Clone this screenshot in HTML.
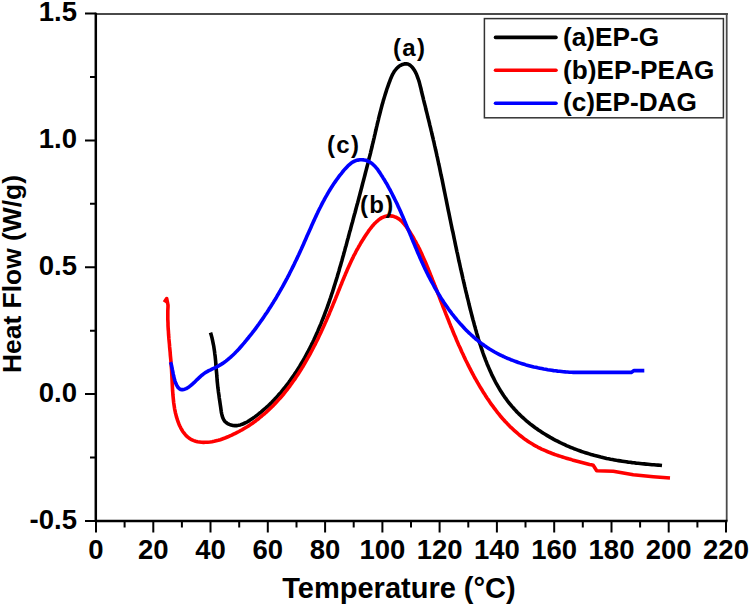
<!DOCTYPE html>
<html><head><meta charset="utf-8">
<style>
html,body{margin:0;padding:0;background:#fff;}
body{width:750px;height:605px;overflow:hidden;}
svg{display:block;}
text{font-family:"Liberation Sans",sans-serif;font-weight:bold;fill:#000;}
.tl{font-size:27.5px;}
.ttl{font-size:29px;}
.ttl2{font-size:26.4px;}
.ann{font-size:24px;letter-spacing:1.3px;}
.leg{font-size:26.2px;}
</style></head><body>
<svg width="750" height="605" viewBox="0 0 750 605">
<rect width="750" height="605" fill="#fff"/>
<line x1="96" y1="14" x2="727.9" y2="14" stroke="#4a4a4a" stroke-width="1.8"/>
<line x1="726.7" y1="13.1" x2="726.7" y2="521" stroke="#4a4a4a" stroke-width="1.8"/>
<line x1="95.8" y1="12.8" x2="95.8" y2="522" stroke="#000" stroke-width="2.5"/>
<line x1="95" y1="521" x2="727.5" y2="521" stroke="#000" stroke-width="2.5"/>
<path d="M85,521.0H96 M85,394.1H96 M85,267.2H96 M85,140.4H96 M85,13.5H96 M90,457.5H96 M90,330.7H96 M90,203.8H96 M90,76.9H96 M96.0,521V532.5 M153.3,521V532.5 M210.5,521V532.5 M267.8,521V532.5 M325.1,521V532.5 M382.4,521V532.5 M439.6,521V532.5 M496.9,521V532.5 M554.2,521V532.5 M611.5,521V532.5 M668.7,521V532.5 M726.0,521V532.5 M124.6,521V527.5 M181.9,521V527.5 M239.2,521V527.5 M296.5,521V527.5 M353.7,521V527.5 M411.0,521V527.5 M468.3,521V527.5 M525.5,521V527.5 M582.8,521V527.5 M640.1,521V527.5 M697.4,521V527.5" stroke="#000" stroke-width="2" fill="none"/>
<g fill="none" stroke-width="3.6" stroke-linejoin="round" stroke-linecap="butt">
<path d="M210.5,332.6 L211.1,334.5 L211.6,336.4 L212.1,338.3 L212.5,340.2 L212.9,342.1 L213.3,344.1 L213.7,346.0 L214.0,348.0 L214.3,350.0 L214.6,352.0 L214.8,353.9 L215.1,355.9 L215.3,357.9 L215.5,359.9 L215.7,361.9 L215.8,364.0 L216.0,366.0 L216.2,368.0 L216.3,370.0 L216.5,372.0 L216.7,374.0 L216.8,376.0 L217.0,378.0 L217.1,380.0 L217.3,382.0 L217.5,383.9 L217.7,385.9 L217.9,387.9 L218.2,389.8 L218.4,391.7 L218.7,393.7 L219.0,395.6 L219.2,397.5 L219.5,399.5 L219.8,401.4 L220.1,403.4 L220.4,405.5 L220.7,407.6 L221.0,409.7 L221.3,411.8 L221.7,413.9 L222.2,415.9 L222.8,417.8 L223.7,419.6 L224.7,421.2 L226.1,422.5 L227.6,423.6 L229.3,424.4 L231.1,425.1 L232.9,425.5 L234.7,425.6 L236.6,425.6 L238.4,425.3 L240.3,424.9 L242.1,424.3 L243.9,423.5 L245.7,422.7 L247.5,421.7 L249.3,420.6 L251.0,419.5 L252.8,418.3 L254.5,417.1 L256.1,415.9 L257.8,414.6 L259.4,413.3 L261.0,412.1 L262.6,410.7 L264.1,409.4 L265.7,408.0 L267.2,406.7 L268.7,405.3 L270.1,403.9 L271.6,402.5 L273.0,401.0 L274.4,399.6 L275.8,398.1 L277.1,396.6 L278.4,395.1 L279.8,393.6 L281.1,392.1 L282.3,390.6 L283.6,389.0 L284.9,387.5 L286.1,385.9 L287.3,384.3 L288.5,382.8 L289.7,381.2 L290.8,379.6 L292.0,377.9 L293.1,376.3 L294.2,374.7 L295.3,373.0 L296.4,371.4 L297.5,369.7 L298.5,368.1 L299.6,366.4 L300.6,364.7 L301.6,363.0 L302.6,361.3 L303.6,359.6 L304.6,357.9 L305.6,356.1 L306.5,354.4 L307.4,352.7 L308.4,350.9 L309.3,349.2 L310.2,347.4 L311.1,345.6 L311.9,343.8 L312.8,342.1 L313.7,340.3 L314.5,338.5 L315.3,336.7 L316.1,334.9 L317.0,333.1 L317.8,331.2 L318.5,329.4 L319.3,327.6 L320.1,325.7 L320.9,323.9 L321.6,322.0 L322.3,320.2 L323.1,318.3 L323.8,316.5 L324.5,314.6 L325.2,312.7 L325.9,310.9 L326.6,309.0 L327.3,307.1 L328.0,305.2 L328.6,303.3 L329.3,301.4 L329.9,299.5 L330.6,297.6 L331.2,295.7 L331.8,293.8 L332.5,291.9 L333.1,290.0 L333.7,288.1 L334.3,286.1 L334.9,284.2 L335.5,282.3 L336.1,280.4 L336.7,278.5 L337.3,276.5 L337.8,274.6 L338.4,272.7 L339.0,270.7 L339.5,268.8 L340.1,266.8 L340.7,264.9 L341.2,263.0 L341.8,261.0 L342.3,259.1 L342.8,257.2 L343.4,255.2 L343.9,253.3 L344.5,251.3 L345.0,249.4 L345.5,247.4 L346.1,245.5 L346.6,243.6 L347.1,241.6 L347.6,239.7 L348.2,237.7 L348.7,235.8 L349.2,233.9 L349.7,231.9 L350.3,230.0 L350.8,228.1 L351.3,226.1 L351.8,224.2 L352.4,222.3 L352.9,220.4 L353.4,218.4 L353.9,216.5 L354.4,214.6 L355.0,212.7 L355.5,210.7 L356.0,208.8 L356.5,206.9 L357.0,205.0 L357.6,203.0 L358.1,201.1 L358.6,199.2 L359.1,197.3 L359.6,195.4 L360.1,193.4 L360.6,191.5 L361.1,189.6 L361.6,187.7 L362.1,185.8 L362.6,183.8 L363.1,181.9 L363.6,180.0 L364.1,178.1 L364.6,176.2 L365.1,174.2 L365.6,172.3 L366.1,170.4 L366.6,168.5 L367.1,166.5 L367.6,164.6 L368.1,162.7 L368.5,160.8 L369.0,158.8 L369.5,156.9 L370.0,155.0 L370.5,153.1 L370.9,151.1 L371.4,149.2 L371.9,147.3 L372.3,145.3 L372.8,143.4 L373.3,141.5 L373.7,139.5 L374.2,137.6 L374.6,135.6 L375.1,133.7 L375.5,131.8 L376.0,129.8 L376.4,127.9 L376.9,125.9 L377.3,124.0 L377.8,122.0 L378.3,120.1 L378.7,118.1 L379.2,116.2 L379.7,114.2 L380.2,112.3 L380.7,110.4 L381.2,108.4 L381.7,106.5 L382.2,104.5 L382.8,102.6 L383.3,100.6 L383.9,98.7 L384.5,96.8 L385.1,94.8 L385.7,92.9 L386.3,90.9 L386.9,89.0 L387.6,87.1 L388.3,85.2 L389.0,83.2 L389.7,81.3 L390.4,79.4 L391.2,77.5 L392.0,75.6 L392.9,73.8 L393.9,72.1 L395.0,70.5 L396.2,69.0 L397.5,67.6 L399.0,66.3 L400.7,65.3 L402.5,64.4 L404.3,63.9 L406.1,63.7 L407.9,64.0 L409.4,64.8 L410.9,65.9 L412.3,67.3 L413.5,68.9 L414.6,70.6 L415.6,72.4 L416.5,74.3 L417.2,76.1 L417.9,78.1 L418.6,80.0 L419.2,81.9 L419.7,83.9 L420.2,85.9 L420.7,87.8 L421.2,89.8 L421.6,91.8 L422.1,93.7 L422.6,95.7 L423.1,97.6 L423.5,99.6 L424.0,101.5 L424.5,103.5 L425.0,105.4 L425.5,107.3 L425.9,109.3 L426.4,111.2 L426.9,113.1 L427.4,115.1 L427.8,117.0 L428.3,118.9 L428.8,120.8 L429.3,122.7 L429.7,124.7 L430.2,126.6 L430.7,128.5 L431.1,130.4 L431.6,132.4 L432.0,134.3 L432.5,136.2 L433.0,138.2 L433.4,140.1 L433.9,142.0 L434.3,144.0 L434.7,145.9 L435.2,147.9 L435.6,149.8 L436.1,151.8 L436.5,153.7 L436.9,155.7 L437.4,157.6 L437.8,159.6 L438.2,161.5 L438.6,163.5 L439.1,165.5 L439.5,167.4 L439.9,169.4 L440.3,171.4 L440.7,173.3 L441.1,175.3 L441.6,177.3 L442.0,179.2 L442.4,181.2 L442.8,183.2 L443.2,185.2 L443.6,187.1 L444.0,189.1 L444.4,191.1 L444.8,193.0 L445.2,195.0 L445.6,197.0 L446.0,198.9 L446.4,200.9 L446.8,202.9 L447.2,204.9 L447.6,206.8 L448.0,208.8 L448.4,210.8 L448.8,212.7 L449.2,214.7 L449.6,216.6 L450.0,218.6 L450.4,220.5 L450.8,222.5 L451.2,224.5 L451.6,226.4 L452.0,228.4 L452.4,230.3 L452.9,232.2 L453.3,234.2 L453.7,236.1 L454.1,238.1 L454.5,240.0 L454.9,241.9 L455.3,243.9 L455.7,245.8 L456.1,247.7 L456.5,249.7 L456.9,251.6 L457.4,253.5 L457.8,255.5 L458.2,257.4 L458.6,259.3 L459.0,261.3 L459.5,263.2 L459.9,265.1 L460.3,267.0 L460.7,269.0 L461.2,270.9 L461.6,272.8 L462.1,274.8 L462.5,276.7 L462.9,278.6 L463.4,280.6 L463.8,282.5 L464.3,284.4 L464.7,286.4 L465.2,288.3 L465.6,290.2 L466.1,292.2 L466.6,294.1 L467.0,296.0 L467.5,298.0 L468.0,299.9 L468.5,301.9 L468.9,303.8 L469.4,305.8 L469.9,307.7 L470.4,309.7 L470.9,311.6 L471.4,313.6 L471.9,315.5 L472.4,317.5 L472.9,319.4 L473.5,321.4 L474.0,323.4 L474.5,325.3 L475.1,327.3 L475.6,329.2 L476.2,331.2 L476.7,333.2 L477.3,335.1 L477.9,337.1 L478.4,339.0 L479.0,341.0 L479.6,342.9 L480.3,344.8 L480.9,346.8 L481.5,348.7 L482.2,350.6 L482.8,352.5 L483.5,354.5 L484.2,356.4 L484.9,358.2 L485.6,360.1 L486.4,362.0 L487.1,363.9 L487.9,365.7 L488.7,367.6 L489.5,369.4 L490.3,371.3 L491.1,373.1 L491.9,374.9 L492.8,376.7 L493.7,378.4 L494.6,380.2 L495.5,382.0 L496.4,383.7 L497.4,385.4 L498.4,387.1 L499.4,388.8 L500.4,390.5 L501.5,392.2 L502.5,393.8 L503.6,395.5 L504.7,397.1 L505.9,398.7 L507.0,400.2 L508.2,401.8 L509.4,403.3 L510.7,404.9 L511.9,406.4 L513.2,407.8 L514.5,409.3 L515.9,410.7 L517.2,412.2 L518.6,413.6 L520.0,414.9 L521.4,416.3 L522.9,417.6 L524.4,419.0 L525.8,420.3 L527.4,421.6 L528.9,422.8 L530.4,424.1 L532.0,425.3 L533.6,426.5 L535.2,427.7 L536.8,428.8 L538.4,430.0 L540.1,431.1 L541.8,432.2 L543.4,433.3 L545.1,434.3 L546.9,435.4 L548.6,436.4 L550.3,437.4 L552.1,438.4 L553.8,439.4 L555.6,440.3 L557.4,441.2 L559.2,442.1 L561.0,443.0 L562.9,443.9 L564.7,444.7 L566.5,445.6 L568.4,446.4 L570.2,447.2 L572.1,447.9 L574.0,448.7 L575.9,449.4 L577.8,450.1 L579.7,450.8 L581.6,451.5 L583.5,452.1 L585.4,452.7 L587.3,453.3 L589.2,453.9 L591.1,454.5 L593.1,455.0 L595.0,455.6 L596.9,456.1 L598.9,456.6 L600.8,457.1 L602.7,457.5 L604.7,457.9 L606.6,458.4 L608.6,458.8 L610.5,459.2 L612.5,459.5 L614.4,459.9 L616.4,460.3 L618.4,460.6 L620.3,460.9 L622.3,461.2 L624.3,461.5 L626.2,461.8 L628.2,462.1 L630.2,462.3 L632.2,462.6 L634.1,462.8 L636.1,463.1 L638.1,463.3 L640.1,463.5 L642.1,463.7 L644.1,463.9 L646.0,464.1 L648.0,464.3 L650.0,464.5 L652.0,464.7 L654.0,464.8 L656.0,465.0 L658.0,465.1 L660.0,465.3 L662.0,465.5" stroke="#000"/>
<path d="M164.3,302.2 L166.7,298.6 L168.0,305.0 L168.0,307.0 L167.9,309.0 L167.8,311.0 L167.8,313.1 L167.8,315.1 L167.8,317.1 L167.8,319.1 L167.9,321.1 L168.0,323.1 L168.0,325.1 L168.1,327.1 L168.2,329.0 L168.4,331.0 L168.5,333.0 L168.6,335.0 L168.8,337.0 L168.9,338.9 L169.1,340.9 L169.3,342.9 L169.5,344.9 L169.6,346.9 L169.8,348.8 L170.0,350.8 L170.2,352.8 L170.3,354.8 L170.5,356.8 L170.7,358.7 L170.9,360.7 L171.0,362.7 L171.2,364.7 L171.3,366.7 L171.5,368.7 L171.6,370.7 L171.7,372.7 L171.8,374.7 L171.9,376.7 L172.0,378.7 L172.1,380.7 L172.2,382.7 L172.3,384.8 L172.4,386.8 L172.5,388.8 L172.6,390.8 L172.8,392.8 L172.9,394.8 L173.1,396.8 L173.3,398.8 L173.5,400.8 L173.7,402.8 L174.0,404.8 L174.3,406.8 L174.6,408.8 L175.0,410.7 L175.4,412.7 L175.9,414.6 L176.4,416.6 L177.0,418.5 L177.6,420.4 L178.3,422.3 L179.0,424.2 L179.8,426.0 L180.7,427.8 L181.6,429.5 L182.6,431.2 L183.7,432.7 L184.9,434.2 L186.1,435.6 L187.5,436.8 L188.9,438.0 L190.4,439.0 L192.0,439.9 L193.8,440.6 L195.6,441.2 L197.5,441.7 L199.5,442.0 L201.5,442.3 L203.5,442.4 L205.6,442.3 L207.8,442.2 L209.9,442.0 L212.0,441.7 L214.1,441.3 L216.2,440.8 L218.3,440.3 L220.3,439.7 L222.3,439.0 L224.2,438.3 L226.2,437.5 L228.0,436.8 L229.9,435.9 L231.8,435.1 L233.6,434.2 L235.4,433.3 L237.2,432.4 L239.0,431.5 L240.7,430.5 L242.5,429.6 L244.2,428.5 L245.9,427.5 L247.6,426.5 L249.2,425.4 L250.9,424.3 L252.5,423.2 L254.1,422.0 L255.7,420.9 L257.2,419.7 L258.8,418.5 L260.3,417.2 L261.8,416.0 L263.3,414.7 L264.8,413.5 L266.3,412.2 L267.7,410.8 L269.2,409.5 L270.6,408.1 L272.0,406.8 L273.4,405.4 L274.7,404.0 L276.1,402.5 L277.4,401.1 L278.7,399.6 L280.0,398.2 L281.3,396.7 L282.6,395.2 L283.9,393.7 L285.1,392.1 L286.3,390.6 L287.6,389.0 L288.8,387.4 L290.0,385.8 L291.1,384.2 L292.3,382.6 L293.4,381.0 L294.6,379.4 L295.7,377.7 L296.8,376.1 L297.9,374.4 L299.0,372.7 L300.1,371.0 L301.2,369.3 L302.2,367.6 L303.3,365.9 L304.3,364.2 L305.3,362.4 L306.3,360.7 L307.3,358.9 L308.3,357.2 L309.3,355.4 L310.3,353.6 L311.2,351.8 L312.2,350.0 L313.1,348.2 L314.0,346.4 L315.0,344.6 L315.9,342.8 L316.8,341.0 L317.7,339.2 L318.5,337.4 L319.4,335.5 L320.3,333.7 L321.1,331.9 L322.0,330.0 L322.8,328.2 L323.7,326.3 L324.5,324.5 L325.3,322.6 L326.2,320.8 L327.0,318.9 L327.8,317.1 L328.6,315.2 L329.4,313.4 L330.1,311.5 L330.9,309.7 L331.7,307.8 L332.5,306.0 L333.2,304.1 L334.0,302.3 L334.7,300.5 L335.5,298.6 L336.2,296.8 L337.0,294.9 L337.7,293.1 L338.4,291.3 L339.2,289.5 L339.9,287.6 L340.6,285.8 L341.4,284.0 L342.1,282.2 L342.8,280.4 L343.6,278.6 L344.3,276.8 L345.1,275.0 L345.8,273.2 L346.6,271.4 L347.4,269.6 L348.2,267.8 L349.0,266.0 L349.8,264.2 L350.6,262.5 L351.4,260.7 L352.3,258.9 L353.2,257.1 L354.0,255.3 L355.0,253.6 L355.9,251.8 L356.8,250.0 L357.8,248.3 L358.8,246.5 L359.8,244.8 L360.8,243.0 L361.9,241.2 L363.0,239.5 L364.1,237.7 L365.2,236.0 L366.4,234.2 L367.6,232.5 L368.8,230.7 L370.1,229.0 L371.4,227.3 L372.7,225.7 L374.1,224.1 L375.5,222.7 L377.0,221.3 L378.5,220.0 L380.0,218.9 L381.6,217.9 L383.3,217.1 L385.0,216.5 L386.7,216.1 L388.5,215.9 L390.3,215.9 L392.2,216.1 L394.0,216.6 L395.8,217.2 L397.5,218.1 L399.2,219.1 L400.7,220.4 L402.2,221.8 L403.5,223.3 L404.8,224.8 L406.1,226.5 L407.3,228.2 L408.4,229.9 L409.6,231.6 L410.7,233.3 L411.7,235.0 L412.8,236.8 L413.8,238.5 L414.8,240.3 L415.8,242.0 L416.7,243.8 L417.7,245.6 L418.6,247.4 L419.5,249.1 L420.3,250.9 L421.2,252.7 L422.0,254.5 L422.8,256.4 L423.6,258.2 L424.4,260.0 L425.2,261.8 L426.0,263.6 L426.8,265.5 L427.5,267.3 L428.3,269.1 L429.0,271.0 L429.8,272.8 L430.5,274.7 L431.3,276.5 L432.0,278.4 L432.7,280.2 L433.5,282.1 L434.2,283.9 L434.9,285.8 L435.7,287.7 L436.4,289.5 L437.1,291.4 L437.8,293.2 L438.6,295.1 L439.3,297.0 L440.0,298.8 L440.7,300.7 L441.5,302.6 L442.2,304.4 L442.9,306.3 L443.6,308.1 L444.4,310.0 L445.1,311.9 L445.8,313.7 L446.6,315.6 L447.3,317.5 L448.1,319.3 L448.8,321.2 L449.5,323.0 L450.3,324.9 L451.0,326.8 L451.8,328.6 L452.6,330.5 L453.3,332.3 L454.1,334.2 L454.9,336.0 L455.7,337.8 L456.4,339.7 L457.2,341.5 L458.0,343.4 L458.8,345.2 L459.7,347.0 L460.5,348.8 L461.3,350.7 L462.1,352.5 L463.0,354.3 L463.8,356.1 L464.7,357.9 L465.5,359.7 L466.4,361.5 L467.3,363.3 L468.2,365.1 L469.1,366.9 L470.0,368.6 L470.9,370.4 L471.8,372.2 L472.7,373.9 L473.7,375.7 L474.6,377.5 L475.6,379.2 L476.6,380.9 L477.6,382.7 L478.6,384.4 L479.6,386.1 L480.6,387.8 L481.7,389.5 L482.7,391.2 L483.8,392.9 L484.9,394.6 L485.9,396.3 L487.0,398.0 L488.2,399.6 L489.3,401.3 L490.4,402.9 L491.6,404.6 L492.8,406.2 L494.0,407.8 L495.2,409.4 L496.4,411.0 L497.6,412.6 L498.9,414.1 L500.1,415.7 L501.4,417.2 L502.7,418.7 L504.1,420.2 L505.4,421.7 L506.8,423.1 L508.1,424.6 L509.5,426.0 L510.9,427.4 L512.4,428.7 L513.8,430.1 L515.3,431.4 L516.8,432.7 L518.3,434.0 L519.8,435.3 L521.4,436.5 L522.9,437.7 L524.5,438.9 L526.1,440.0 L527.8,441.2 L529.4,442.3 L531.1,443.3 L532.8,444.3 L534.5,445.4 L536.3,446.3 L538.0,447.3 L539.8,448.2 L541.6,449.1 L543.5,449.9 L545.3,450.7 L547.2,451.5 L549.1,452.3 L551.0,453.0 L552.9,453.8 L554.8,454.5 L556.7,455.1 L558.6,455.8 L560.6,456.4 L562.5,457.0 L564.5,457.6 L566.4,458.2 L568.4,458.8 L570.3,459.3 L572.3,459.9 L574.2,460.4 L576.1,460.9 L578.1,461.4 L580.0,461.9 L581.9,462.4 L583.8,462.9 L585.7,463.4 L587.6,463.9 L589.5,464.4 L591.3,464.8 L593.2,465.3 L596.7,470.7 L613.3,471.3 L633.3,474.7 L653.3,476.7 L670.0,478.0" stroke="#ff0000"/>
<path d="M170.5,362.1 L171.0,363.6 L171.5,365.3 L171.9,367.3 L172.3,369.4 L172.8,371.6 L173.2,373.9 L173.7,376.3 L174.3,378.6 L174.9,380.8 L175.6,382.8 L176.4,384.7 L177.3,386.3 L178.2,387.7 L179.3,388.7 L180.5,389.4 L181.8,389.6 L183.2,389.6 L184.7,389.2 L186.2,388.6 L187.7,387.7 L189.3,386.7 L190.9,385.4 L192.4,384.1 L194.0,382.7 L195.5,381.2 L197.1,379.6 L198.7,378.1 L200.3,376.6 L201.9,375.2 L203.6,373.9 L205.3,372.6 L207.1,371.6 L208.8,370.6 L210.6,369.8 L212.4,368.9 L214.2,368.1 L216.0,367.3 L217.7,366.4 L219.4,365.4 L221.1,364.4 L222.7,363.4 L224.3,362.3 L225.9,361.1 L227.4,359.9 L228.9,358.6 L230.4,357.4 L231.9,356.0 L233.3,354.7 L234.8,353.3 L236.1,351.9 L237.5,350.4 L238.9,349.0 L240.2,347.5 L241.5,346.0 L242.9,344.4 L244.2,342.9 L245.4,341.4 L246.7,339.8 L248.0,338.3 L249.2,336.7 L250.5,335.1 L251.7,333.6 L252.9,332.0 L254.2,330.4 L255.4,328.8 L256.6,327.2 L257.7,325.6 L258.9,324.0 L260.1,322.3 L261.2,320.7 L262.4,319.1 L263.5,317.4 L264.6,315.8 L265.7,314.1 L266.9,312.5 L268.0,310.8 L269.0,309.1 L270.1,307.4 L271.2,305.8 L272.2,304.1 L273.3,302.4 L274.3,300.7 L275.4,299.0 L276.4,297.3 L277.4,295.5 L278.4,293.8 L279.4,292.1 L280.4,290.4 L281.4,288.6 L282.4,286.9 L283.4,285.1 L284.3,283.4 L285.3,281.6 L286.2,279.9 L287.2,278.1 L288.1,276.3 L289.0,274.6 L289.9,272.8 L290.8,271.0 L291.7,269.2 L292.6,267.4 L293.5,265.6 L294.4,263.8 L295.2,262.0 L296.1,260.2 L297.0,258.4 L297.8,256.6 L298.7,254.8 L299.5,253.0 L300.3,251.2 L301.2,249.3 L302.0,247.5 L302.8,245.7 L303.6,243.9 L304.4,242.0 L305.2,240.2 L306.0,238.4 L306.8,236.5 L307.6,234.7 L308.5,232.9 L309.3,231.0 L310.1,229.2 L310.9,227.4 L311.7,225.5 L312.5,223.7 L313.3,221.9 L314.2,220.1 L315.0,218.2 L315.9,216.4 L316.7,214.6 L317.6,212.8 L318.4,211.0 L319.3,209.2 L320.2,207.5 L321.1,205.7 L322.0,203.9 L322.9,202.1 L323.9,200.4 L324.8,198.6 L325.8,196.9 L326.8,195.2 L327.8,193.4 L328.8,191.7 L329.8,190.0 L330.9,188.3 L332.0,186.6 L333.0,184.9 L334.1,183.3 L335.3,181.6 L336.4,180.0 L337.6,178.4 L338.8,176.7 L340.0,175.1 L341.3,173.6 L342.5,172.0 L343.8,170.4 L345.1,168.9 L346.5,167.4 L347.9,165.9 L349.4,164.6 L350.9,163.3 L352.5,162.2 L354.2,161.3 L356.0,160.6 L357.9,160.1 L359.9,159.8 L361.9,159.7 L363.8,159.9 L365.8,160.3 L367.6,161.0 L369.3,161.8 L370.9,162.8 L372.4,163.9 L373.8,165.2 L375.2,166.6 L376.5,168.1 L377.8,169.7 L378.9,171.4 L380.1,173.1 L381.2,174.9 L382.3,176.6 L383.4,178.4 L384.5,180.1 L385.5,181.9 L386.6,183.6 L387.6,185.4 L388.5,187.2 L389.5,189.0 L390.5,190.7 L391.4,192.5 L392.3,194.3 L393.2,196.1 L394.1,197.9 L395.0,199.7 L395.9,201.5 L396.8,203.3 L397.6,205.1 L398.4,206.9 L399.3,208.7 L400.1,210.5 L400.9,212.3 L401.7,214.2 L402.5,216.0 L403.3,217.8 L404.0,219.6 L404.8,221.4 L405.6,223.3 L406.3,225.1 L407.1,226.9 L407.9,228.7 L408.6,230.6 L409.4,232.4 L410.1,234.2 L410.9,236.0 L411.6,237.9 L412.4,239.7 L413.1,241.5 L413.9,243.4 L414.7,245.2 L415.4,247.0 L416.2,248.8 L417.0,250.7 L417.7,252.5 L418.5,254.3 L419.3,256.1 L420.1,258.0 L420.9,259.8 L421.7,261.6 L422.6,263.4 L423.4,265.2 L424.2,267.0 L425.1,268.9 L426.0,270.7 L426.8,272.5 L427.7,274.3 L428.6,276.1 L429.6,277.9 L430.5,279.7 L431.4,281.4 L432.4,283.2 L433.4,285.0 L434.3,286.8 L435.3,288.5 L436.4,290.3 L437.4,292.0 L438.4,293.8 L439.5,295.5 L440.5,297.2 L441.6,298.9 L442.7,300.6 L443.8,302.3 L445.0,304.0 L446.1,305.7 L447.3,307.3 L448.4,309.0 L449.6,310.6 L450.8,312.2 L452.0,313.8 L453.3,315.4 L454.5,317.0 L455.8,318.5 L457.1,320.1 L458.4,321.6 L459.7,323.1 L461.0,324.6 L462.4,326.1 L463.7,327.5 L465.1,329.0 L466.5,330.4 L467.9,331.8 L469.3,333.2 L470.8,334.5 L472.3,335.8 L473.7,337.2 L475.2,338.5 L476.8,339.7 L478.3,341.0 L479.8,342.2 L481.4,343.4 L483.0,344.5 L484.6,345.7 L486.2,346.8 L487.9,347.9 L489.5,349.0 L491.2,350.0 L492.9,351.0 L494.6,352.0 L496.4,353.0 L498.1,353.9 L499.9,354.8 L501.7,355.7 L503.5,356.5 L505.3,357.4 L507.1,358.2 L509.0,358.9 L510.8,359.7 L512.7,360.4 L514.6,361.1 L516.4,361.8 L518.3,362.5 L520.3,363.1 L522.2,363.7 L524.1,364.3 L526.0,364.9 L528.0,365.4 L529.9,365.9 L531.9,366.4 L533.8,366.9 L535.8,367.3 L537.8,367.8 L539.8,368.2 L541.7,368.6 L543.7,369.0 L545.7,369.3 L547.7,369.7 L549.7,370.0 L551.7,370.3 L553.6,370.6 L555.6,370.8 L557.6,371.1 L559.6,371.3 L561.6,371.5 L563.5,371.7 L565.5,371.9 L567.5,372.0 L569.4,372.2 L571.4,372.3 L573.3,372.4 L631.3,372.4 L634.0,370.6 L644.3,370.6" stroke="#0000ff"/>
</g>
<text x="77" y="528.8" text-anchor="end" class="tl">-0.5</text>
<text x="77" y="401.9" text-anchor="end" class="tl">0.0</text>
<text x="77" y="275.0" text-anchor="end" class="tl">0.5</text>
<text x="77" y="148.2" text-anchor="end" class="tl">1.0</text>
<text x="77" y="21.3" text-anchor="end" class="tl">1.5</text>
<text x="96.0" y="559" text-anchor="middle" class="tl">0</text>
<text x="153.3" y="559" text-anchor="middle" class="tl">20</text>
<text x="210.5" y="559" text-anchor="middle" class="tl">40</text>
<text x="267.8" y="559" text-anchor="middle" class="tl">60</text>
<text x="325.1" y="559" text-anchor="middle" class="tl">80</text>
<text x="382.4" y="559" text-anchor="middle" class="tl">100</text>
<text x="439.6" y="559" text-anchor="middle" class="tl">120</text>
<text x="496.9" y="559" text-anchor="middle" class="tl">140</text>
<text x="554.2" y="559" text-anchor="middle" class="tl">160</text>
<text x="611.5" y="559" text-anchor="middle" class="tl">180</text>
<text x="668.7" y="559" text-anchor="middle" class="tl">200</text>
<text x="726.0" y="559" text-anchor="middle" class="tl">220</text>
<text x="399" y="598" text-anchor="middle" class="ttl">Temperature (°C)</text>
<text transform="translate(21,274) rotate(-90)" text-anchor="middle" class="ttl2">Heat Flow (W/g)</text>
<text x="409.6" y="56" text-anchor="middle" class="ann">(a)</text>
<text x="377.2" y="213" text-anchor="middle" class="ann">(b)</text>
<text x="343.6" y="153.3" text-anchor="middle" class="ann">(c)</text>
<rect x="484.4" y="18.6" width="239" height="99.2" fill="#fff" stroke="#333" stroke-width="1.5"/>
<line x1="495.5" y1="37.4" x2="556" y2="37.4" stroke="#000" stroke-width="3.6" stroke-linecap="round"/>
<text x="563" y="45.6" class="leg">(a)EP-G</text>
<line x1="495.5" y1="70.3" x2="556" y2="70.3" stroke="#ff0000" stroke-width="3.6" stroke-linecap="round"/>
<text x="563" y="78.5" class="leg">(b)EP-PEAG</text>
<line x1="495.5" y1="103.2" x2="556" y2="103.2" stroke="#0000ff" stroke-width="3.6" stroke-linecap="round"/>
<text x="563" y="111.4" class="leg">(c)EP-DAG</text>
</svg>
</body></html>
